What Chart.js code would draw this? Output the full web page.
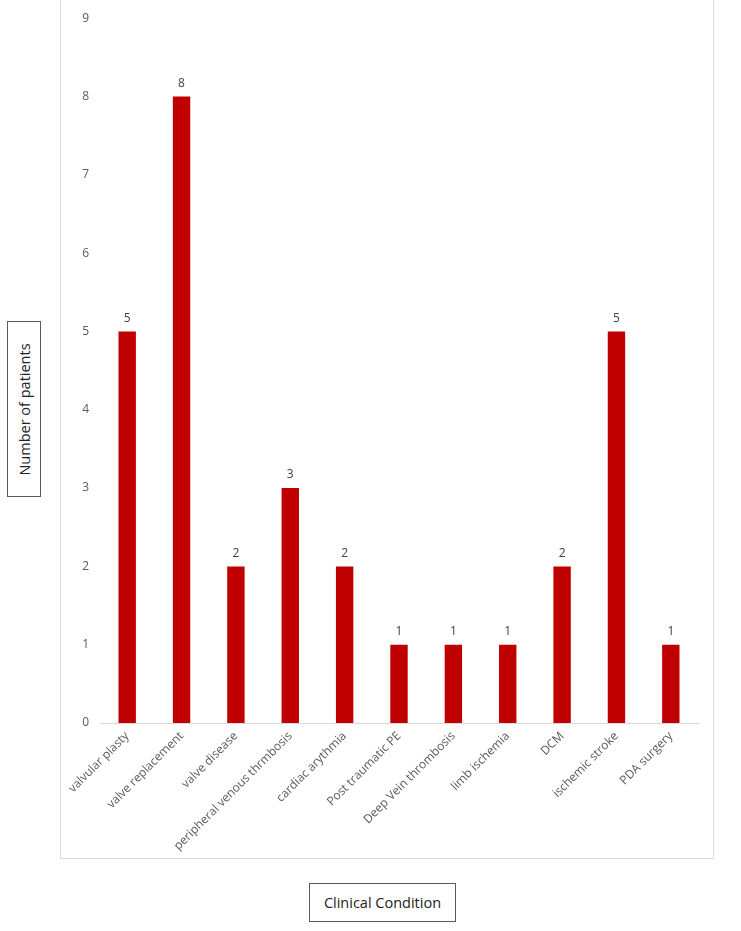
<!DOCTYPE html>
<html><head><meta charset="utf-8">
<script src="https://cdn.jsdelivr.net/npm/chart.js@4"></script>
<style>
html,body{margin:0;padding:0;background:#fff;}
#wrap{position:relative;width:741px;height:931px;overflow:hidden;}
#frame{position:absolute;left:60px;top:-5px;width:654px;height:864px;border:1px solid #d9d9d9;box-sizing:border-box;}
canvas{position:absolute;left:0;top:0;}
.ttl{position:absolute;border:1px solid #595959;box-sizing:border-box;font-family:"Open Sans","Liberation Sans",sans-serif;color:#222;display:flex;align-items:center;justify-content:center;background:#fff;}
#ytitle{left:7px;top:321px;width:34px;height:176px;}
#ytitle span{transform:rotate(-90deg);white-space:nowrap;font-size:14.5px;}
#xtitle{left:309px;top:883px;width:147px;height:39px;font-size:14.5px;}
</style></head>
<body><div id="wrap">
<div id="frame"></div>
<canvas id="c" width="741" height="931"></canvas>
<div class="ttl" id="ytitle"><span>Number of patients</span></div>
<div class="ttl" id="xtitle">Clinical Condition</div>
</div>
<script>
const categories = ["valvular plasty","valve replacement","valve disease","peripheral venous thrmbosis","cardiac arythmia","Post traumatic PE","Deep Vein thrombosis","limb ischemia","DCM","ischemic stroke","PDA surgery"];
const patients = [5,8,2,3,2,1,1,1,2,5,1];
const yTicks = [0,1,2,3,4,5,6,7,8,9];

const valueLabels = {
  id:'valueLabels',
  afterDatasetsDraw(chart){
    const ctx = chart.ctx;
    const meta = chart.getDatasetMeta(0);
    ctx.save();
    ctx.font = '12px "Open Sans","Liberation Sans",sans-serif';
    ctx.fillStyle = '#404040';
    ctx.textAlign = 'center';
    ctx.textBaseline = 'bottom';
    meta.data.forEach((bar,i)=>{
      ctx.fillText(String(chart.data.datasets[0].data[i]), bar.x, bar.y - 7);
    });
    ctx.restore();
  }
};

new Chart(document.getElementById('c'), {
  type:'bar',
  data:{labels:categories, datasets:[{data:patients, backgroundColor:'#C00000', borderWidth:0, categoryPercentage:1, barPercentage:0.32}]},
  options:{
    responsive:false, animation:false,
    layout:{padding:{top:15,right:43,left:0,bottom:0}},
    plugins:{legend:{display:false}, tooltip:{enabled:false}},
    scales:{
      x:{
        grid:{display:false, drawTicks:false},
        border:{display:true,color:'#d9d9d9',width:1},
        ticks:{minRotation:45,maxRotation:45,padding:6,autoSkip:false,color:'#595959',font:{family:'"Open Sans","Liberation Sans",sans-serif',size:12}},
        afterFit(s){ s.height = 931-723; }
      },
      y:{
        min:0,max:9,
        afterBuildTicks(s){ s.ticks = yTicks.map(v=>({value:v})); },
        grid:{display:false, drawTicks:false},
        border:{display:false},
        ticks:{padding:11,color:'#595959',font:{family:'"Open Sans","Liberation Sans",sans-serif',size:12}},
        afterFit(s){ s.width = 100; }
      }
    }
  },
  plugins:[valueLabels]
});
</script>
</body></html>
